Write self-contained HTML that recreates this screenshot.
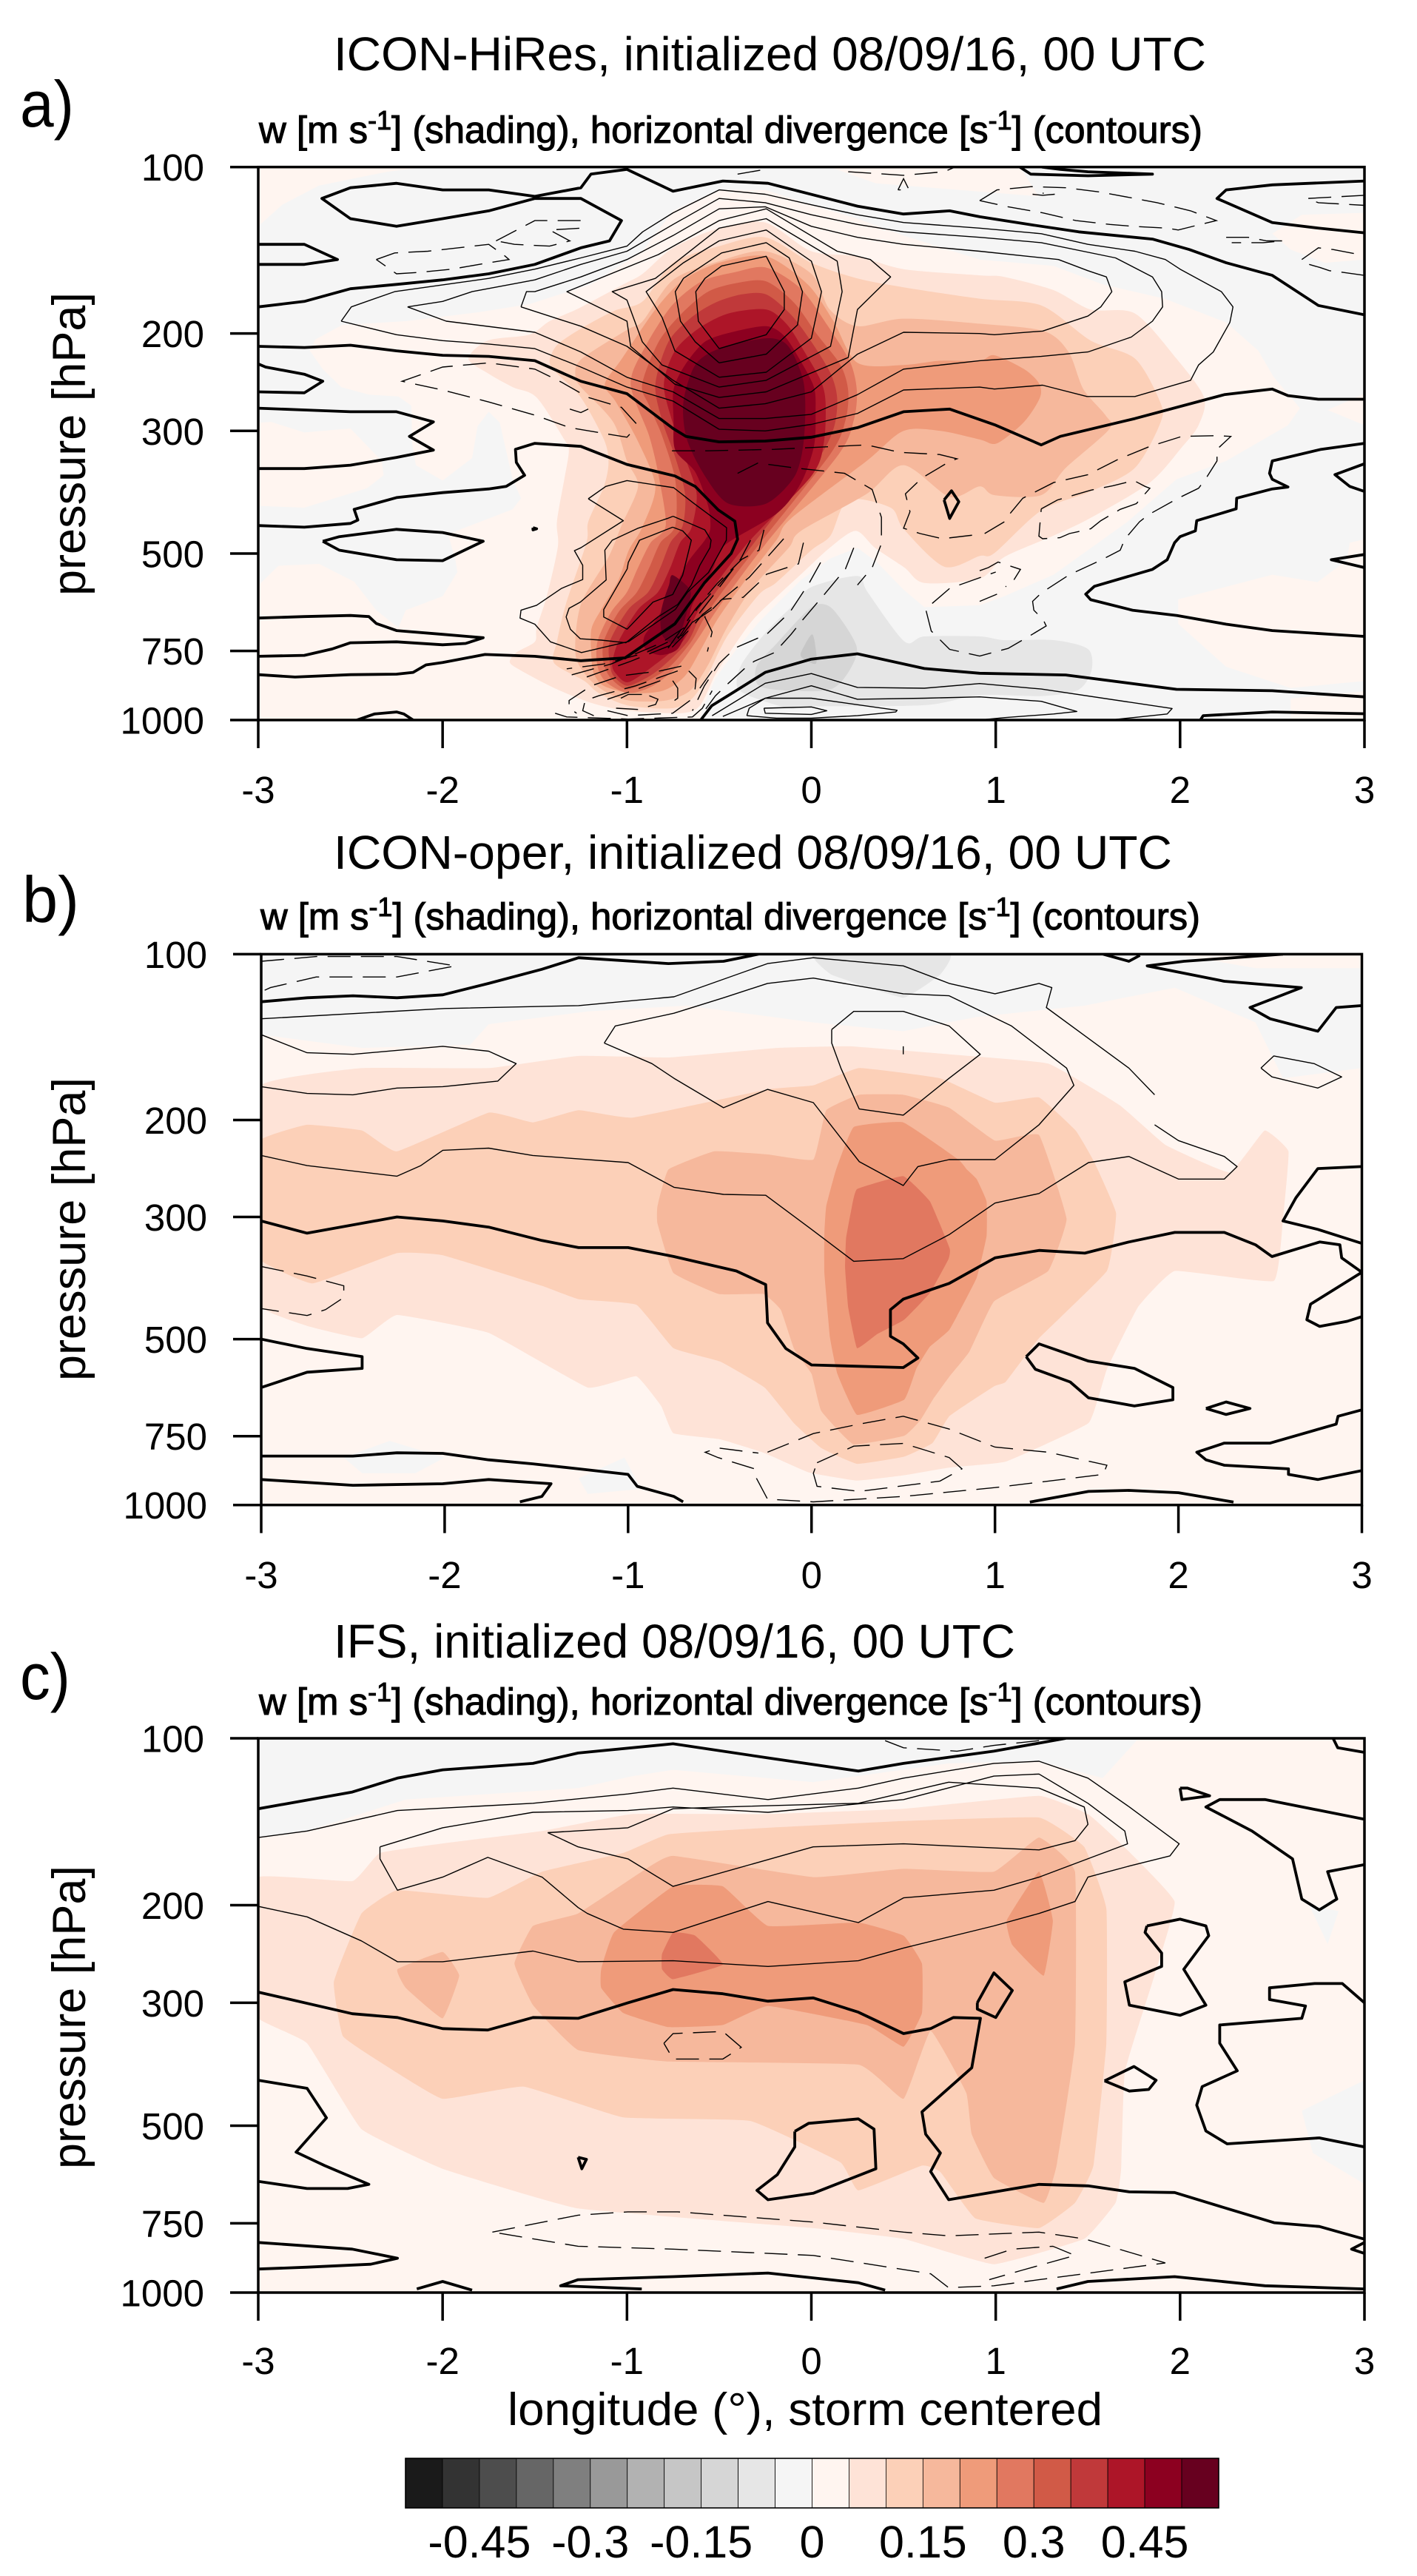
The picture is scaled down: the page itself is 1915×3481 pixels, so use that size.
<!DOCTYPE html>
<html lang="en">
<head>
<meta charset="utf-8">
<title>Vertical velocity and divergence cross-sections</title>
<style>
html,body{margin:0;padding:0;background:#fff}
svg{display:block}
text{font-family:"Liberation Sans",sans-serif;fill:#000}
</style>
</head>
<body>
<svg id="fig" xmlns="http://www.w3.org/2000/svg" width="1915" height="3481" viewBox="0 0 1915 3481">
<rect x="0" y="0" width="1915" height="3481" fill="#fff"/>

<text x="27" y="171" font-size="88" textLength="73" lengthAdjust="spacingAndGlyphs">a)</text>
<text x="451" y="95" font-size="64" textLength="1179" lengthAdjust="spacingAndGlyphs">ICON-HiRes, initialized 08/09/16, 00 UTC</text>
<text x="350" y="193" font-size="51" stroke="#000" stroke-width="1.1" textLength="1275" lengthAdjust="spacingAndGlyphs">w [m s<tspan font-size="36" dy="-18">-1</tspan><tspan dy="18">] (shading), horizontal divergence [s</tspan><tspan font-size="36" dy="-18">-1</tspan><tspan dy="18">] (contours)</tspan></text>
<text transform="translate(115,805) rotate(-90)" font-size="63" textLength="410" lengthAdjust="spacingAndGlyphs">pressure [hPa]</text>

<text x="30" y="1246" font-size="88" textLength="77" lengthAdjust="spacingAndGlyphs">b)</text>
<text x="451" y="1174" font-size="64" textLength="1133" lengthAdjust="spacingAndGlyphs">ICON-oper, initialized 08/09/16, 00 UTC</text>
<text x="352" y="1256" font-size="51" stroke="#000" stroke-width="1.1" textLength="1270" lengthAdjust="spacingAndGlyphs">w [m s<tspan font-size="36" dy="-18">-1</tspan><tspan dy="18">] (shading), horizontal divergence [s</tspan><tspan font-size="36" dy="-18">-1</tspan><tspan dy="18">] (contours)</tspan></text>
<text transform="translate(115,1866) rotate(-90)" font-size="63" textLength="410" lengthAdjust="spacingAndGlyphs">pressure [hPa]</text>

<text x="27" y="2296" font-size="88" textLength="68" lengthAdjust="spacingAndGlyphs">c)</text>
<text x="451" y="2240" font-size="64" textLength="921" lengthAdjust="spacingAndGlyphs">IFS, initialized 08/09/16, 00 UTC</text>
<text x="350" y="2317" font-size="51" stroke="#000" stroke-width="1.1" textLength="1275" lengthAdjust="spacingAndGlyphs">w [m s<tspan font-size="36" dy="-18">-1</tspan><tspan dy="18">] (shading), horizontal divergence [s</tspan><tspan font-size="36" dy="-18">-1</tspan><tspan dy="18">] (contours)</tspan></text>
<text transform="translate(115,2931) rotate(-90)" font-size="63" textLength="410" lengthAdjust="spacingAndGlyphs">pressure [hPa]</text>
<text x="686" y="3277" font-size="62" textLength="804" lengthAdjust="spacingAndGlyphs">longitude (°), storm centered</text>
</svg>

<script>
/* ---------- shared axes / legend values ---------- */
const lonTicks=[-3,-2,-1,0,1,2,3];
const pressureTicks=[100,200,300,500,750,1000];
const colorbarLevels=[-0.55,-0.5,-0.45,-0.4,-0.35,-0.3,-0.25,-0.2,-0.15,-0.1,-0.05,0,0.05,0.1,0.15,0.2,0.25,0.3,0.35,0.4,0.45,0.5];
const colorbarLabels=[-0.45,-0.3,-0.15,0,0.15,0.3,0.45];
const palette=["#1a1a1a","#333333","#4d4d4d","#666666","#7f7f7f","#999999","#b2b2b2","#c6c6c6","#d6d6d6","#e6e6e6","#f5f5f5","#fff5f0","#fee3d7","#fcd0b8","#f6b89c","#ef9b7a","#e17860","#d15a47","#c0393a","#ad1528","#8c0020","#67001f"];
const fullPlot=[[-3,100],[3,100],[3,1000],[-3,1000]];

/* ---------- panel a: w shading, polygons as [lon, hPa] ---------- */
const aGrey=[[-3,128],[-2.87,117],[-2.67,108],[-2.3,102],[-2.1,100],[3,100],[3,1000],[-.605,1000],[-.59,950],[-.52,841],[-.4,740],[-.284,665],[-.19,618],[-.056,558],[.104,510],[.25,488],[.357,519],[.5,581],[.613,625],[.913,620],[1.047,597],[1.314,546],[1.715,438],[1.98,367],[2.25,340],[2.585,293],[2.65,273],[2.505,239],[2.425,215],[2.25,191],[1.916,173],[1.58,163],[1.314,151],[.913,147],[.5,133],[.25,124],[0,117],[-.25,110],[-.5,110],[-.75,120],[-.915,142],[-1.195,163],[-1.53,177],[-1.8,183],[-2.2,190],[-2.545,193],[-2.69,205],[-2.72,215],[-2.65,232],[-2.55,250],[-2.4,258],[-2.24,260],[-2.17,270],[-2.165,316],[-2.145,346],[-2,369],[-1.84,336],[-1.81,294],[-1.75,277],[-1.69,290],[-1.62,367],[-1.575,397],[-1.62,416],[-1.97,461],[-1.93,515],[-1.92,540],[-2,597],[-2.2,633],[-2.24,681],[-2.36,633],[-2.48,562],[-2.67,522],[-2.89,526],[-3,571],[-3,410],[-2.75,413],[-2.41,381],[-2.32,361],[-2.33,340],[-2.5,297],[-2.75,302],[-2.93,289],[-3,290]];
const aPinkUpperRight=[[2.5,132],[2.66,122],[3,121],[3,147],[2.785,149],[2.6,141]];
const aPinkWedge=[[2.8,275],[3,257],[3,293]];
const aPinkLowerRight=[[1.99,605],[2.5,546],[2.745,563],[2.905,514],[2.92,478],[3,471],[3,850],[2.6,875],[2.25,801],[1.99,670]];
const aPinkBottomRight=[[2.6,914],[3,887],[3,1000],[2.6,1000]];
const aPinkTop=[[.1,100],[.35,107],[.8,110],[1.234,113],[1.13,100]];
const aMinus10=[[0,575],[.25,549],[.305,587],[.505,721],[.613,706],[.913,706],[1.047,717],[1.314,717],[1.5,744],[1.52,813],[1.448,882],[1.247,905],[.913,902],[.613,940],[0,945],[-.123,952],[-.337,904],[-.404,867],[-.377,791],[-.243,692],[-.11,625]];
const aMinus15=[[.03,618],[.118,631],[.245,735],[.205,815],[.105,880],[-.11,885],[-.284,867],[-.297,799],[-.19,728],[-.056,651]];
const aMinus20=[[.003,700],[.024,745],[.024,791],[-.043,775],[-.056,755]];
const aW05=[[-1.86,222],[-1.755,206],[-1.53,201],[-1.42,190],[-1.26,180],[-1.02,163],[-.915,156],[-.75,140],[-.5,129],[-.25,126],[0,142],[.25,145],[.5,153],[.913,157],[1.047,158],[1.314,167],[1.515,181],[1.755,184],[1.98,222],[2.13,261],[2.1,293],[2.01,321],[1.836,372],[1.515,431],[1.314,464],[1.047,507],[.913,555],[.613,565],[.505,530],[.345,488],[.24,455],[.1,488],[-.056,545],[-.19,599],[-.324,663],[-.457,767],[-.524,832],[-.605,942],[-.71,972],[-.99,962],[-1.19,932],[-1.395,875],[-1.58,812],[-1.636,786],[-1.6,755],[-1.5,722],[-1.49,681],[-1.435,597],[-1.375,486],[-1.38,438],[-1.34,367],[-1.315,326],[-1.34,311],[-1.49,261],[-1.62,250],[-1.755,236]];
const aW10=[[-1.42,225],[-1.38,210],[-1.25,196],[-1.07,182],[-.915,175],[-.75,149],[-.5,139],[-.25,134],[0,149],[.25,159],[.5,165],[.913,173],[1.247,178],[1.515,206],[1.755,222],[1.89,265],[1.895,289],[1.755,350],[1.515,386],[1.247,418],[.993,499],[.913,505],[.72,528],[.5,451],[.43,413],[.2,400],[.104,464],[0,493],[-.19,564],[-.284,593],[-.457,706],[-.564,832],[-.645,913],[-.752,952],[-.99,942],[-1.153,894],[-1.233,849],[-1.395,789],[-1.38,722],[-1.33,615],[-1.22,478],[-1.21,438],[-1.125,378],[-1.1,342],[-1.125,311],[-1.25,261],[-1.38,236]];
const aW15=[[-1.28,239],[-1.25,223],[-1,197],[-.915,190],[-.75,160],[-.5,148],[-.25,142],[0,156],[.1,181],[.25,194],[.5,188],[.913,192],[1.26,198],[1.395,216],[1.475,252],[1.595,281],[1.615,298],[1.38,350],[1.247,392],[.993,392],[.913,378],[.75,395],[.5,346],[.3,390],[-.056,455],[-.123,488],[-.324,579],[-.457,680],[-.564,799],[-.658,885],[-.79,922],[-.99,922],[-1.126,885],[-1.22,832],[-1.28,757],[-1.25,618],[-1.1,507],[-1.03,445],[-.94,378],[-1,340],[-1.075,289],[-1.25,250]];
const aW20=[[-1.12,247],[-1.027,222],[-.846,181],[-.694,160],[-.5,149],[-.245,145],[-.02,163],[.12,190],[.25,226],[.5,228],[.7,224],[.913,224],[.993,219],[1.154,232],[1.234,246],[1.24,261],[1.154,289],[1.007,316],[.913,311],[.7,300],[.5,300],[.3,340],[-.11,432],[-.19,473],[-.377,570],[-.51,658],[-.59,736],[-.685,832],[-.805,885],[-.98,894],[-1.126,867],[-1.18,824],[-1.193,767],[-1.193,685],[-1.14,631],[-1.046,558],[-.99,493],[-.92,450],[-.846,379],[-.937,315],[-1.06,266]];
const aW25=[[-.98,247],[-.9,211],[-.756,178],[-.595,161],[-.416,155],[-.245,152],[-.057,166],[.086,193],[.21,225],[.247,254],[.23,287],[.15,330],[-.243,478],[-.444,587],[-.538,651],[-.625,721],[-.725,799],[-.859,867],[-.993,894],[-1.113,854],[-1.16,799],[-1.16,721],[-1.086,638],[-1,587],[-.94,530],[-.872,478],[-.79,445],[-.828,362],[-.88,306]];
const aW30=[[-.918,247],[-.828,207],[-.703,184],[-.56,168],[-.4,162],[-.245,161],[-.093,176],[.032,201],[.158,228],[.2,254],[.185,287],[.104,330],[-.277,478],[-.484,587],[-.578,651],[-.651,721],[-.765,799],[-.885,849],[-1,880],[-1.086,841],[-1.126,791],[-1.126,721],[-1.046,638],[-.946,587],[-.879,530],[-.819,478],[-.738,445],[-.738,368],[-.81,306],[-.88,270]];
const aW35=[[-.846,247],[-.775,207],[-.65,187],[-.523,176],[-.38,170],[-.245,170],[-.11,185],[0,207],[.104,236],[.14,262],[.122,296],[.03,340],[-.31,478],[-.518,587],[-.605,651],[-.67,721],[-.805,799],[-.9,841],[-1,867],[-1.073,832],[-1.093,791],[-1.093,721],[-.993,631],[-.885,587],[-.819,530],[-.765,478],[-.698,445],[-.685,390],[-.738,335],[-.81,287]];
const aW40=[[-.8,247],[-.74,215],[-.613,196],[-.45,184],[-.245,181],[-.13,193],[-.04,215],[.05,243],[.077,266],[.068,315],[0,362],[-.344,478],[-.55,587],[-.631,651],[-.698,721],[-.859,799],[-.993,854],[-1.06,824],[-1.08,791],[-1.046,721],[-.94,631],[-.832,587],[-.765,530],[-.712,478],[-.651,450],[-.622,390],[-.685,335],[-.756,287]];
const aW45=[[-.747,287],[-.747,252],[-.685,228],[-.577,207],[-.434,199],[-.245,194],[-.147,202],[-.066,222],[.014,250],[.023,278],[.014,320],[-.057,373],[-.183,422],[-.47,483],[-.538,536],[-.645,618],[-.67,678],[-.725,744],[-.819,763],[-.9,744],[-.906,706],[-.832,651],[-.752,587],[-.671,519],[-.578,473],[-.548,450],[-.56,410],[-.63,356],[-.738,325]];
const aW50Upper=[[-.245,204],[-.125,211],[-.04,247],[-.04,310],[-.09,362],[-.245,406],[-.45,406],[-.577,362],[-.676,310],[-.694,266],[-.63,228],[-.5,213]];
const aW50Lower=[[-.752,547],[-.658,581],[-.665,618],[-.698,678],[-.738,727],[-.805,706],[-.819,651],[-.799,605],[-.772,570]];

/* ---------- panel a: divergence contours ---------- */
const aZeroContours=[
[[-3,179],[-2.75,175],[-2.5,166],[-2.25,163],[-2,160],[-1.75,156],[-1.5,150],[-1.25,140],[-1.095,136],[-1.03,125],[-1.25,114],[-1.5,114],[-1.75,120],[-2,124],[-2.25,128],[-2.5,124],[-2.655,114],[-2.5,109],[-2.25,107],[-2,110],[-1.75,110],[-1.5,113],[-1.25,109],[-1.195,103],[-1,101],[-.75,110.6],[-.48,106],[-.235,107],[.25,117.7],[.5,121.6],[.75,120],[.913,123],[1.18,127],[1.45,131],[1.85,135],[2.05,141],[2.25,149],[2.5,157],[2.75,178],[3,185]],
[[1.13,100],[1.19,103],[1.5,103.7],[1.85,103],[1.5,102],[1.35,101],[1.25,100]],
[[3,106],[2.5,107.7],[2.25,110],[2.2,114],[2.5,126],[2.75,129],[3,131.5]],
[[-3,138],[-2.75,138],[-2.57,147],[-2.75,150],[-3,150]],
[[-3,227],[-2.96,230],[-2.75,237],[-2.65,244],[-2.75,256],[-3,255]],
[[-3,211],[-2.75,212],[-2.5,210],[-2.25,215],[-2,219],[-1.75,220],[-1.5,224],[-1.25,244],[-1,257],[-.75,297],[-.68,307],[-.5,314],[-.25,313],[0,308],[.25,296],[.5,277],[.75,274],[1,293],[1.247,318],[1.35,307],[1.755,285],[2.24,258],[2.5,252],[2.585,259],[2.75,263],[3,263]],
[[-3,273],[-2.75,275],[-2.5,277],[-2.25,277],[-2.05,289],[-2.18,307],[-2.05,325],[-2.25,335],[-2.5,346],[-2.75,351],[-3,351]],
[[-3,445],[-2.75,448],[-2.5,441],[-2.46,435],[-2.48,416],[-2.25,396],[-2,388],[-1.75,382],[-1.655,378],[-1.555,361],[-1.6,342],[-1.605,324],[-1.5,316],[-1.25,320],[-1,345],[-.74,362],[-.63,378],[-.505,417],[-.415,437],[-.4,471],[-.435,500],[-.58,565],[-.74,670],[-1.01,772],[-1.25,781],[-1.5,767],[-1.77,761],[-2,787],[-2.09,795],[-2.16,820],[-2.25,826],[-2.5,828],[-2.8,836],[-3,828]],
[[-3,654],[-2.75,650],[-2.5,647],[-2.4,650],[-2.36,669],[-2.25,689],[-2,700],[-1.78,710],[-1.875,727],[-2,731],[-2.25,722],[-2.5,725],[-2.6,744],[-2.75,764],[-3,767]],
[[-2.65,475],[-2.56,493],[-2.25,513],[-2,515],[-1.78,475],[-2,458],[-2.25,452],[-2.56,466],[-2.65,475]],
[[-2.465,1000],[-2.37,975],[-2.25,967],[-2.21,975],[-2.16,1000]],
[[-1.51,449],[-1.49,451],[-1.51,453],[-1.51,449]],
[[3,316],[2.765,324],[2.5,340],[2.485,358],[2.5,367],[2.585,379],[2.5,382],[2.307,397],[2.304,415],[2.09,436],[2.083,455],[2,466],[1.97,478],[1.93,513],[1.85,534],[1.535,573],[1.488,592],[1.515,606],[1.742,633],[1.983,647],[2.25,671],[2.5,689],[3,706]],
[[3,344],[2.84,360],[2.92,378],[3,386]],
[[3,502],[2.82,513],[3,530]],
[[-.6,1000],[-.54,942],[-.43,894],[-.25,820],[0,776],[.25,759],[.613,807],[.913,823],[1.38,829],[1.98,880],[2.5,885],[3,908]],
[[2.11,1000],[2.125,982],[2.5,967],[3,974]],
[[.72,400],[.76,385],[.8,403],[.75,432],[.72,400]]
];
const aPositiveContours=[
[[-.5,213],[-.245,201],[-.147,181],[-.147,168],[-.245,145],[-.487,151],[-.577,159],[-.627,168],[-.613,190],[-.5,213]],
[[-.5,226],[-.245,218],[-.075,193],[-.048,168],[-.12,146],[-.245,137],[-.487,143],[-.694,159],[-.738,168],[-.71,190],[-.63,207],[-.5,226]],
[[-.5,240],[-.245,235],[0,204],[.055,168],[0,148],[-.245,130],[-.5,136],[-.694,149],[-.896,168],[-.81,187],[-.74,215],[-.5,240]],
[[-.5,250],[-.245,243],[.104,211],[.167,168],[.14,148],[-.245,124],[-.5,129],[-.846,159],[-1.08,168],[-1,174],[-.917,207],[-.81,228],[-.5,250]],
[[-.5,261],[-.245,255],[.2,221],[.25,181],[.43,158],[.32,147],[.14,142],[-.245,119],[-.5,125],[-.83,144],[-1.326,168],[-1,190],[-.98,211],[-.74,247],[-.5,261]],
[[-1.575,179],[-1.545,168],[-1.5,168],[-1.25,158],[-1,147],[-.75,133],[-.5,119],[-.25,118],[0,128],[.25,134],[.5,138],[.913,142],[1.34,147],[1.5,154],[1.6,158],[1.63,168],[1.57,179],[1.5,186],[1.254,198],[.993,201],[.913,200],[.5,199],[.25,218],[0,255],[-.25,268],[-.5,273],[-.75,243],[-1,211],[-1.25,194],[-1.575,179]],
[[-2.19,179],[-2,175],[-1.84,168],[-1.5,160],[-1.25,150],[-1,142],[-.92,137],[-.75,127],[-.5,114],[-.25,116],[0,122],[.25,127],[.5,131],[.913,134],[1.247,137],[1.65,146],[1.85,158],[1.9,168],[1.905,179],[1.85,190],[1.735,203],[1.5,216],[1.247,220],[.913,224],[.5,232],[.25,258],[0,280],[-.25,285],[-.5,285],[-.75,255],[-1,240],[-1.25,216],[-1.5,199],[-1.98,190],[-2.19,179]],
[[-2.55,190],[-2.495,179],[-2.26,168],[-1.75,159],[-1.5,153],[-1.25,146],[-1,139],[-.915,131],[-.75,121],[-.5,110],[-.25,112],[0,117],[.25,122],[.5,126],[.913,129],[1.247,132],[1.5,138],[1.755,142],[1.92,147],[2,153],[2.224,168],[2.287,179],[2.27,191],[2.18,216],[2.1,228],[2.057,243],[1.755,260],[1.495,260],[1.254,248],[.993,252],[.913,250],[.5,253],[.25,279],[0,292],[-.25,300],[-.5,298],[-.75,265],[-1,250],[-1.25,230],[-1.5,213],[-1.75,209],[-2,206],[-2.25,201],[-2.55,190]],
[[-.752,448],[-.932,473],[-.993,519],[-.999,533],[-1.126,631],[-1.126,651],[-.999,685],[-.859,612],[-.752,593],[-.698,547],[-.651,473],[-.698,455],[-.752,448]],
[[-.75,428],[-.578,453],[-.544,473],[-.55,488],[-.605,525],[-.651,570],[-.725,618],[-.832,651],[-1.006,725],[-1.14,717],[-1.253,713],[-1.307,685],[-1.33,651],[-1.314,628],[-1.253,612],[-1.113,558],[-1.12,493],[-1.08,473],[-.94,450],[-.78,432],[-.75,428]],
[[-1.21,398],[-1.115,378],[-1,369],[-.747,380],[-.64,405],[-.46,449],[-.461,473],[-.558,541],[-.671,587],[-.738,631],[-.99,721],[-1.247,755],[-1.415,722],[-1.5,671],[-1.58,654],[-1.575,633],[-1.49,620],[-1.355,578],[-1.24,557],[-1.24,525],[-1.285,494],[-1.25,488],[-1.02,436],[-1.21,398]],
[[-.538,982],[-.25,858],[0,824],[.25,873],[.613,876],[.913,859],[1.247,879],[1.957,953],[1.93,975],[1.78,987],[1.62,1000]],
[[-.48,985],[-.25,913],[0,867],[.25,917],[.613,913],[.913,908],[1.247,925],[1.44,965],[1.314,975],[1.05,990],[.913,1000]],
[[-.35,982],[-.337,952],[-.25,913],[0,913],[.465,960],[.458,967],[.25,982],[0,992],[-.19,992],[-.35,982]],
[[-.257,952],[0,947],[.084,962],[0,977],[-.25,972],[-.257,952]]
];
const aNegativeContours=[
[[-2.36,147],[-2.26,143],[-2.08,142],[-1.75,138],[-1.66,145],[-1.64,147],[-1.75,149],[-1.95,153],[-2.12,155],[-2.25,156],[-2.36,147]],
[[-1.71,136],[-1.5,125],[-1.25,125],[-1.24,126],[-1.25,129],[-1.42,130],[-1.31,136],[-1.42,139],[-1.61,138],[-1.71,136]],
[[-.95,291],[-1.03,272],[-1.21,261],[-1.355,245],[-1.5,232],[-1.75,226],[-2,230],[-2.22,244],[-2,253],[-1.75,266],[-1.5,281],[-1.31,296],[-1.13,303],[-1,308],[-.96,298]],
[[-1.31,274],[-1.25,278],[-1.21,274]],
[[.94,460],[1.047,438],[1.073,425],[1.147,397],[1.314,372],[1.5,360],[1.662,338],[1.836,320],[2.01,307],[2.2,306],[2.275,307],[2.2,324],[2.2,340],[2.137,367],[2.1,381],[1.99,397],[1.83,425],[1.78,438],[1.7,471],[1.675,493],[1.57,514],[1.4,546],[1.25,588],[1.2,610],[1.207,633],[1.257,658],[1.274,676],[1.167,710],[1.067,742],[.913,766],[.75,745],[.65,690],[.62,630],[.75,578],[1,540]],
[[1.247,415],[1.335,400],[1.515,384],[1.635,377],[1.75,369],[1.81,378],[1.836,381],[1.763,406],[1.675,416],[1.57,436],[1.515,451],[1.4,460],[1.348,468],[1.254,470],[1.234,465],[1.247,415]],
[[.913,537],[.96,530],[1.013,518],[1.134,534],[1.087,566],[1.053,574]],
[[.913,610],[1.007,592]],
[[-.756,326],[-.56,326],[-.2,324],[.3,318],[.48,328],[.695,331],[.79,337],[.755,340],[.6,365],[.51,390],[.535,420],[.5,450],[.59,460],[.71,470],[.9,462]],
[[-.4,358],[-.29,343],[-.09,350],[.18,358],[.33,383],[.38,430],[.38,480],[.33,530],[.25,570]],
[[.23,488],[.185,533],[.07,593],[-.05,661],[-.11,700],[-.2,755],[-.31,783],[-.364,808],[-.45,858],[-.52,904],[-.59,972]],
[[.05,519],[-.01,564],[-.116,638],[-.243,700],[-.41,740],[-.5,790],[-.58,867],[-.645,962]],
[[-.043,478],[-.07,522],[-.243,545],[-.284,564],[-.37,600],[-.484,605],[-.578,651],[-.538,693],[-.564,752]],
[[-.15,470],[-.21,495],[-.337,552],[-.484,605],[-.59,644],[-.645,678],[-.765,744]],
[[-.257,453],[-.284,493],[-.377,512],[-.51,566],[-.63,631],[-.78,744]],
[[-.33,473],[-.384,512],[-.538,599],[-.7,702],[-.9,756],[-1.126,792],[-1.327,808]],
[[-.424,533],[-.618,628],[-.738,727],[-.98,783],[-1.24,841]],
[[-.538,631],[-.82,727],[-1.086,792],[-1.32,832]],
[[-.705,799],[-.819,815],[-1.033,832],[-1.193,867],[-1.314,922],[-1.314,952],[-1.273,972]],
[[-.725,815],[-.952,867],[-1.153,904],[-1.227,922],[-1.24,962],[-1.18,982]],
[[-.819,849],[-1.006,894],[-1.106,917]],
[[-.665,815],[-.625,841],[-.631,880]],
[[-.752,849],[-.725,876],[-.725,913],[-.752,927]],
[[-.879,904],[-.832,917],[-.845,937],[-.939,957],[-1.059,952]],
[[-1.033,913],[-.993,899],[-.919,899]],
[[-.658,922],[-.752,972],[-.993,982],[-1.106,962]],
[[-1.39,972],[-1.327,987],[-.993,996],[-.645,987],[-.591,952],[-.538,885]],
[[-.605,876],[-.538,815]],
[[.913,115],[1.007,110],[1.194,108.5],[1.38,109],[1.568,111],[1.876,116],[2.057,120],[2.197,125],[2.11,127],[1.99,130],[1.93,129],[1.742,128],[1.62,127],[1.435,125],[1.254,121],[1.067,118],[.913,115]],
[[1.2,112],[1.254,112.5],[1.32,112],[1.254,111.5]],
[[-.4,103],[-.25,101]],
[[.2,102],[.5,103.5],[.72,102],[.78,100]],
[[.47,110],[.5,105],[.53,110],[.47,110]],
[[2.25,134],[2.37,134],[2.47,136],[2.56,136],[2.45,137],[2.4,137],[2.28,137]],
[[2.66,147],[2.75,140],[2.83,141],[2.95,143.5],[3,144]],
[[2.7,150],[2.76,152],[2.81,154],[2.88,155],[3,157]],
[[3,112.5],[2.69,114],[2.75,116],[3,117.3]]
];

/* ---------- panel b ---------- */
const bGrey=[[3,161],[2.57,168],[2.42,133],[1.98,115],[1.49,124],[.9,130],[.5,138],[.01,133],[-.68,124],[-1.22,127],[-1.76,134],[-1.86,146],[-2.45,148],[-3,140],[-3,100],[3,100]];
const bGreyPatchLeft=[[-2.55,820],[-2.3,765],[-2,820],[-2.16,876],[-2.45,876]];
const bGreyPatchMid=[[-1.27,895],[-1.02,820],[-.93,935],[-1.22,955]];
const bPinkTopRight=[[1.98,100],[3,100],[3,106],[2.42,106]];
const bMinus10=[[.01,100],[.75,100],[.7,109],[.5,120],[.11,109]];
const bW05=[[-3,173],[-2.45,161],[-1.76,161],[-1.27,153],[-.78,154],[-.19,148],[.21,147],[.75,152],[1.29,158],[1.68,188],[1.93,222],[2.28,249],[2.47,209],[2.6,228],[2.57,302],[2.52,392],[1.98,376],[1.78,437],[1.61,567],[1.51,710],[1.06,834],[.753,855],[.505,883],[.248,903],[-.014,873],[-.256,805],[-.498,760],[-.753,741],[-.82,661],[-.955,584],[-1.22,612],[-1.76,487],[-2.26,452],[-2.45,498],[-2.75,473],[-3,437],[-3.2,300]];
const bW10=[[-3,217],[-2.75,204],[-2.45,209],[-2.26,228],[-1.76,194],[-1.52,202],[-1.27,192],[-.975,198],[-.24,176],[.01,173],[.26,161],[.7,168],[1,186],[1.24,182],[1.44,209],[1.54,238],[1.66,295],[1.61,376],[1.24,498],[1.06,597],[.995,609],[.753,689],[.659,772],[.505,817],[.248,842],[.053,788],[-.095,711],[-.256,612],[-.498,549],[-.753,519],[-.955,433],[-1.27,423],[-1.47,400],[-2.01,352],[-2.26,349],[-2.72,396],[-3,360],[-3.2,280]];
const bW15=[[-.78,246],[-.53,228],[-.24,231],[.01,236],[.08,192],[.26,180],[.5,180],[.75,190],[1,218],[1.24,213],[1.39,302],[1.29,376],[.995,427],[.86,527],[.753,584],[.665,641],[.591,703],[.505,749],[.228,776],[.053,675],[0,578],[-.095,521],[-.168,442],[-.262,414],[-.505,414],[-.753,379],[-.84,308],[-.84,287]];
const bW20=[[.23,206],[.5,202],[.8,236],[.847,246],[.9,256],[.954,281],[.954,325],[.9,387],[.753,480],[.645,516],[.571,566],[.505,644],[.248,686],[.141,578],[.1,495],[.07,379],[.07,321],[.08,287],[.134,246]];
const bW25=[[.248,267],[.5,253],[.645,281],[.753,342],[.746,358],[.645,412],[.505,461],[.356,490],[.248,519],[.2,438],[.183,371],[.188,328],[.215,293]];
const bZeroContours=[
[[-3,305],[-2.75,321],[-2.26,300],[-2.01,305],[-1.76,313],[-1.47,331],[-1.27,341],[-1,341],[-.75,354],[-.41,376],[-.25,398],[-.24,467],[-.14,520],[0,557],[.5,563],[.58,541],[.5,510],[.43,494],[.43,442],[.5,423],[.75,396],[1,356],[1.24,345],[1.49,349],[1.73,333],[1.98,320],[2.25,320],[2.42,337],[2.51,354],[2.77,333],[2.88,337],[2.89,356],[3,378],[2.72,432],[2.7,461],[2.77,474],[2.92,464],[3,455]],
[[-3,122],[-2.75,120],[-2.5,119],[-2.26,120],[-2.01,118.5],[-1.76,113],[-1.47,106.5],[-1.27,101.5],[-.78,104],[-.48,103],[-.29,100]],
[[1.59,100],[1.73,103],[1.79,100.5]],
[[2.57,100],[2.03,103],[1.83,105],[2.25,112],[2.67,115],[2.39,125],[2.5,131],[2.76,138],[2.86,125],[3,124]],
[[3,243],[2.76,245],[2.64,277],[2.57,305],[2.76,316],[3,335]],
[[-3,500],[-2.75,520],[-2.45,538],[-2.45,565],[-2.75,574],[-3,612]],
[[1.17,538],[1.24,510],[1.51,548],[1.76,565],[1.97,612],[1.97,644],[1.76,661],[1.51,639],[1.41,598],[1.22,567],[1.17,538]],
[[2.15,668],[2.26,650],[2.39,668],[2.26,685],[2.15,668]],
[[3,672],[2.87,690],[2.86,713],[2.5,772],[2.25,772],[2.1,802],[2.15,828],[2.25,847],[2.6,860],[2.6,880],[2.76,899],[3,866]],
[[-3,815],[-2.5,815],[-2.26,804],[-2.01,806],[-1.76,828],[-1.52,842],[-1.27,860],[-1,880],[-.95,925],[-.75,965],[-.7,987]],
[[-3,899],[-2.5,921],[-2.01,915],[-1.76,899],[-1.42,915],[-1.47,965],[-1.59,987]],
[[1.19,988],[1.51,945],[1.73,941],[2,950],[2.3,988]]
];
const bPositiveContours=[
[[-3,140],[-2.75,151],[-2.5,152],[-2.01,147],[-1.76,150],[-1.61,158],[-1.71,170],[-2.01,174],[-2.26,175],[-2.5,180],[-2.75,179],[-3,174]],
[[-3,232],[-2.75,242],[-2.26,253],[-2.13,242],[-2.01,227],[-1.76,225],[-1.52,232],[-1,239],[-.75,265],[-.48,273],[-.25,274],[0,316],[.23,361],[.5,357],[.75,323],[1,283],[1.24,272],[1.51,239],[1.73,233],[2,256],[2.25,256],[2.32,243],[2.25,233],[2,218],[1.87,204]],
[[1.87,180],[1.73,161],[1.28,125],[1.31,115],[1.24,113],[1,118],[.75,113],[.5,105],[.01,101.5],[-.24,104],[-.75,119.5],[-1.27,124],[-2,125.5],[-3,131]],
[[-1.13,145],[-1.07,135],[-.75,128],[-.48,120],[-.24,113],[.01,110.5],[.5,118],[.75,119],[1.09,135],[1.39,161],[1.43,173],[1.24,204],[1,236],[.75,236],[.58,243],[.5,263],[.26,238],[.01,186],[-.24,176],[-.48,190],[-.75,168],[-.87,158],[-1.13,145]],
[[.11,137],[.23,127],[.5,127],[.75,135],[.92,152],[.75,168],[.5,196],[.26,191],[.16,161],[.11,145],[.11,137]],
[[2.45,161],[2.52,153],[2.74,158],[2.89,167],[2.76,175],[2.51,167],[2.45,161]],
[[.5,147],[.5,152]]
];
const bNegativeContours=[
[[-3,103],[-2.7,101],[-2.26,101],[-1.94,105],[-2.26,110],[-2.7,110],[-2.95,115],[-3,117]],
[[-3,369],[-2.75,384],[-2.55,400],[-2.55,420],[-2.65,442],[-2.75,453],[-3,440]],
[[-.24,802],[.01,742],[.26,713],[.5,690],[.75,728],[1,785],[1.29,802],[1.61,847],[1.59,880],[1,930],[.5,965],[.01,987],[-.24,976],[-.3,895],[-.31,860],[-.51,820],[-.58,802],[-.51,788],[-.29,805]],
[[.03,838],[.23,782],[.5,773],[.75,820],[.82,860],[.7,905],[.26,945],[.03,925],[.01,876],[.03,838]]
];

/* ---------- panel c ---------- */
const cGrey=[[-3,151],[-2.735,147],[-2.2,129],[-1.265,123],[-.97,117],[-.75,114],[.01,120],[.745,111],[1.235,110],[1.58,118],[1.775,100],[-3,100]];
const cGreyRight=[[2.66,470],[3,414],[3,637],[2.72,560]];
const cGreyUpperRight=[[2.7,200],[2.86,205],[2.8,235]];
const cW05=[[-3,178],[-2.49,181],[-2.34,161],[-1.95,154],[-1.46,147],[-.97,137],[-.235,137],[.5,134],[1.235,127],[1.5,137],[1.68,155],[1.97,197],[1.85,275],[1.7,400],[1.68,600],[1.65,689],[1.48,800],[.99,889],[.5,800],[.01,765],[-1.265,705],[-2,598],[-2.44,507],[-2.735,355],[-3,320],[-3.2,240]];
const cW10=[[-2.59,275],[-2.44,207],[-2.245,188],[-1.755,194],[-1.46,174],[-1.02,161],[-.775,149],[-.235,145],[.5,141],[1.235,139],[1.48,157],[1.6,203],[1.6,355],[1.53,590],[1.43,689],[1.235,765],[.89,735],[.7,606],[.6,590],[.255,654],[.157,582],[-.333,490],[-1.02,483],[-1.56,425],[-2,447],[-2.29,393],[-2.54,345]];
const cW15=[[-1.61,255],[-1.51,218],[-1.265,207],[-.92,174],[-.75,163],[.01,178],[.5,172],[.99,174],[1.235,151],[1.43,174],[1.43,355],[1.33,590],[1.26,689],[.99,621],[.87,518],[.84,436],[.647,337],[.5,447],[.255,388],[-.775,383],[-1.265,365],[-1.51,303]];
const cW15Left=[[-2.245,261],[-2,243],[-1.91,268],[-2,320],[-2.2,282]];
const cW20=[[-1.14,261],[-1.07,224],[-.75,185],[-.48,185],[-.235,218],[.255,215],[.5,227],[.6,255],[.6,313],[.5,360],[.3,329],[-.235,304],[-.48,329],[-.775,332],[-1.02,313],[-1.14,282]];
const cW20Right=[[1.06,213],[1.235,174],[1.31,213],[1.26,268],[1.09,236]];
const cW25=[[-.81,245],[-.75,224],[-.63,227],[-.48,256],[-.75,272],[-.81,261]];
const cZeroContours=[
[[-3,287],[-2.49,314],[-2.245,319],[-2,334],[-1.755,336],[-1.51,319],[-1.265,320],[-.995,300],[-.75,284],[-.48,289],[-.235,298],[.01,294],[.255,312],[.5,341],[.647,334],[.77,319],[.917,320],[.87,393],[.6,472],[.62,518],[.7,560],[.647,605],[.745,680],[1.235,638],[1.5,642],[1.725,658],[1.97,660],[2.265,707],[2.51,748],[2.755,760],[3,801]],
[[-3,134],[-2.49,125],[-2.245,118],[-2,114],[-1.51,111],[-1.265,106.3],[-.75,102.3],[-.235,108.5],[.255,114.6],[.5,111],[.99,105.5],[1.38,100]],
[[2.83,100],[2.855,104],[3,106]],
[[2,123],[2.04,123],[2.16,127],[2.01,129],[2,123]],
[[3,140],[2.46,129],[2.215,129],[2.14,133],[2.39,147],[2.61,165],[2.66,195],[2.755,204],[2.85,195],[2.8,174],[3,169]],
[[1.82,218],[2,212],[2.14,218],[2.155,227],[2.02,261],[2.14,303],[2,316],[1.725,303],[1.7,275],[1.9,258],[1.9,244],[1.81,224],[1.82,218]],
[[3,300],[2.88,277],[2.73,277],[2.485,282],[2.485,296],[2.68,304],[2.66,320],[2.215,329],[2.215,355],[2.31,398],[2.12,425],[2.09,459],[2.14,511],[2.255,539],[2.755,526],[3,546]],
[[1.59,415],[1.75,391],[1.87,414],[1.83,430],[1.725,433],[1.59,415]],
[[-.09,512],[-.015,495],[.255,486],[.34,507],[.35,598],[.01,662],[-.235,680],[-.295,654],[-.185,613],[-.09,546],[-.09,512]],
[[.9,300],[.99,265],[1.09,285],[1,319],[.9,308],[.9,300]],
[[-3,414],[-2.735,428],[-2.63,484],[-2.795,558],[-2.64,590],[-2.4,638],[-2.515,649],[-2.735,649],[-3,630]],
[[-3,812],[-2.49,835],[-2.245,867],[-2.39,889],[-2.735,900],[-3,907]],
[[-.92,985],[-1.36,972],[-1.265,948],[-.75,936],[-.235,922],[.255,960],[.4,990]],
[[-2.14,985],[-2,955],[-1.84,990]],
[[1.33,985],[1.5,955],[1.97,936],[2.46,972],[3,985]],
[[3,812],[2.93,835],[3,850]],
[[-1.265,570],[-1.245,598],[-1.22,575],[-1.265,570]]
];
const cPositiveContours=[
[[-3,151],[-2.735,147],[-2.245,135],[-1.51,131],[-.995,126],[-.75,123],[-.235,129],[.255,123],[.5,118],[.99,111],[1.235,110],[1.5,118],[1.725,133],[1.995,155],[1.945,163],[1.725,170],[1.5,178],[1.43,197],[1.235,207],[.99,218],[.5,239],[.255,252],[-.235,258],[-.75,252],[-1.265,253],[-1.51,242],[-2,253],[-2.245,253],[-2.44,232],[-2.735,210],[-3,201]],
[[-2.34,157],[-2,145],[-1.51,136],[-.995,135],[-.75,133],[-.235,136],[.5,129],[.99,117],[1.235,116],[1.5,131],[1.7,147],[1.715,155],[1.235,178],[.99,188],[.5,194],[.255,215],[-.235,197],[-.75,224],[-1.02,221],[-1.215,207],[-1.265,202],[-1.46,178],[-1.755,164],[-2,178],[-2.245,188],[-2.34,165],[-2.34,157]],
[[-1.43,148],[-.995,145],[-.75,134],[-.48,133],[.255,131],[.745,120],[1.235,123],[1.48,133],[1.5,143],[1.43,153],[1.235,159],[.5,155],[.01,157],[-.75,185],[-.995,165],[-1.265,157],[-1.43,148]]
];
const cNegativeContours=[
[[.4,101],[.5,104],[.79,105.5],[.99,103],[1.235,101]],
[[-1.73,778],[-1.265,725],[-.995,715],[-.725,715],[.01,746],[.5,778],[.745,790],[1.235,778],[1.48,800],[1.92,884],[1.48,925],[1.235,948],[.99,972],[.745,980],[.647,925],[.01,857],[-.75,835],[-1.265,825],[-1.73,778]],
[[.94,867],[1.09,835],[1.31,825],[1.43,857],[1.14,912],[.965,948]],
[[-.8,355],[-.75,341],[-.48,338],[-.38,361],[-.48,379],[-.75,379],[-.8,355]]
];

/* ---------- layer ordering: lower class bound of each shaded band ---------- */
const aShadingLevels=[0,-.05,0,0,0,0,0,-.1,-.15,-.2,.05,.1,.15,.2,.25,.3,.35,.4,.45,.5,.5];
const aShadingPolygons=[fullPlot,aGrey,aPinkUpperRight,aPinkWedge,aPinkLowerRight,aPinkBottomRight,aPinkTop,aMinus10,aMinus15,aMinus20,aW05,aW10,aW15,aW20,aW25,aW30,aW35,aW40,aW45,aW50Upper,aW50Lower];
const bShadingLevels=[0,-.05,-.05,-.05,0,-.1,.05,.1,.15,.2,.25];
const bShadingPolygons=[fullPlot,bGrey,bGreyPatchLeft,bGreyPatchMid,bPinkTopRight,bMinus10,bW05,bW10,bW15,bW20,bW25];
const cShadingLevels=[0,-.05,-.05,-.05,.05,.1,.15,.15,.2,.2,.25];
const cShadingPolygons=[fullPlot,cGrey,cGreyRight,cGreyUpperRight,cW05,cW10,cW15,cW15Left,cW20,cW20Right,cW25];

/* ---------- drawing ---------- */
const NS="http://www.w3.org/2000/svg";
const fig=document.getElementById("fig");

function mk(tag,name,parent){
  const el=document.createElementNS(NS,tag);
  
  
  parent.appendChild(el);
  return el;
}
function colorOf(level){
  return palette[Math.round((level+0.55)/0.05)];
}
function makeXScale(box){
  return function(lon){return box.x0+(lon+3)/6*(box.x1-box.x0);};
}
function makeYScale(box){
  return function(p){return box.y0+Math.log10(p/100)*(box.y1-box.y0);};
}
function linePath(pts,x,y,close){
  let d="";
  pts.forEach(function(q,i){d+=(i?"L":"M")+x(q[0]).toFixed(1)+" "+y(q[1]).toFixed(1);});
  return d+(close?"Z":"");
}
function smoothPath(pts,x,y,k){
  const s=pts.map(function(q){return [x(q[0]),y(q[1])];});
  const n=s.length;
  let d="M"+s[0][0].toFixed(1)+" "+s[0][1].toFixed(1);
  for(let i=0;i<n;i++){
    const a=s[(i-1+n)%n],b=s[i],c=s[(i+1)%n],e=s[(i+2)%n];
    d+="C"+(b[0]+(c[0]-a[0])*k).toFixed(1)+" "+(b[1]+(c[1]-a[1])*k).toFixed(1)+" "+(c[0]-(e[0]-b[0])*k).toFixed(1)+" "+(c[1]-(e[1]-b[1])*k).toFixed(1)+" "+c[0].toFixed(1)+" "+c[1].toFixed(1);
  }
  return d+"Z";
}
function drawPanel(key,box,labelBaseline,tension,levels,polygons,zeroLines,posLines,negLines){
  const x=makeXScale(box),y=makeYScale(box);
  const g=mk("g","panel-"+key,fig);
  const defs=mk("defs","panel-"+key+"-defs",g);
  const clip=mk("clipPath","panel-"+key+"-clip",defs);
  clip.setAttribute("id","clip-"+key);
  const clipRect=mk("rect","panel-"+key+"-clip-rect",clip);
  clipRect.setAttribute("x",box.x0);
  clipRect.setAttribute("y",box.y0);
  clipRect.setAttribute("width",box.x1-box.x0);
  clipRect.setAttribute("height",box.y1-box.y0);

  const plot=mk("g","panel-"+key+"-plot-area",g);
  plot.setAttribute("clip-path","url(#clip-"+key+")");

  polygons.forEach(function(poly,i){
    const level=levels[i];
    const el=mk("path","panel-"+key+"-w-shading-band",plot);
    const smooth=level>=0.05||level<-0.05;
    el.setAttribute("d",smooth?smoothPath(poly,x,y,tension):linePath(poly,x,y,true));
    el.setAttribute("fill",colorOf(level));
  });
  posLines.forEach(function(l){
    const el=mk("path","panel-"+key+"-positive-divergence-contour",plot);
    el.setAttribute("d",linePath(l,x,y,false));
    el.setAttribute("fill","none");
    el.setAttribute("stroke","#000");
    el.setAttribute("stroke-width","1.4");
    el.setAttribute("stroke-linejoin","round");
  });
  negLines.forEach(function(l){
    const el=mk("path","panel-"+key+"-negative-divergence-contour",plot);
    el.setAttribute("d",linePath(l,x,y,false));
    el.setAttribute("fill","none");
    el.setAttribute("stroke","#000");
    el.setAttribute("stroke-width","1.4");
    el.setAttribute("stroke-dasharray","31 14");
  });
  zeroLines.forEach(function(l){
    const el=mk("path","panel-"+key+"-zero-divergence-contour",plot);
    el.setAttribute("d",linePath(l,x,y,false));
    el.setAttribute("fill","none");
    el.setAttribute("stroke","#000");
    el.setAttribute("stroke-width","3.8");
    el.setAttribute("stroke-linejoin","round");
  });

  const frame=mk("rect","panel-"+key+"-plot-frame",g);
  frame.setAttribute("x",box.x0);
  frame.setAttribute("y",box.y0);
  frame.setAttribute("width",box.x1-box.x0);
  frame.setAttribute("height",box.y1-box.y0);
  frame.setAttribute("fill","none");
  frame.setAttribute("stroke","#000");
  frame.setAttribute("stroke-width","3.5");

  lonTicks.forEach(function(t){
    const tick=mk("line","panel-"+key+"-x-tick",g);
    tick.setAttribute("x1",x(t));
    tick.setAttribute("x2",x(t));
    tick.setAttribute("y1",box.y1);
    tick.setAttribute("y2",box.y1+38);
    tick.setAttribute("stroke","#000");
    tick.setAttribute("stroke-width","3.5");
    const lab=mk("text","panel-"+key+"-x-tick-label",g);
    lab.setAttribute("x",x(t));
    lab.setAttribute("y",labelBaseline);
    lab.setAttribute("font-size","51");
    lab.setAttribute("text-anchor","middle");
    lab.textContent=String(t);
  });
  pressureTicks.forEach(function(p){
    const tick=mk("line","panel-"+key+"-y-tick",g);
    tick.setAttribute("x1",box.x0-38);
    tick.setAttribute("x2",box.x0);
    tick.setAttribute("y1",y(p));
    tick.setAttribute("y2",y(p));
    tick.setAttribute("stroke","#000");
    tick.setAttribute("stroke-width","3.5");
    const lab=mk("text","panel-"+key+"-y-tick-label",g);
    lab.setAttribute("x",box.x0-73);
    lab.setAttribute("y",y(p)+18.5);
    lab.setAttribute("font-size","51");
    lab.setAttribute("text-anchor","end");
    lab.textContent=String(p);
  });
}

drawPanel("a",{x0:349,x1:1844,y0:225.7,y1:973},1085,0.14,aShadingLevels,aShadingPolygons,aZeroContours,aPositiveContours,aNegativeContours);
drawPanel("b",{x0:353,x1:1840.5,y0:1289.4,y1:2033.7},2146,0.05,bShadingLevels,bShadingPolygons,bZeroContours,bPositiveContours,bNegativeContours);
drawPanel("c",{x0:349,x1:1844,y0:2349,y1:3098},3208,0.05,cShadingLevels,cShadingPolygons,cZeroContours,cPositiveContours,cNegativeContours);

/* ---------- colour bar ---------- */
const cbBox={x0:548,x1:1647,y0:3322,y1:3389};
function cbX(level){
  return cbBox.x0+(level+0.55)/1.1*(cbBox.x1-cbBox.x0);
}
const cbGroup=mk("g","colorbar",fig);
colorbarLevels.forEach(function(level,i){
  const box=mk("rect","colorbar-swatch",cbGroup);
  box.setAttribute("x",cbX(level));
  box.setAttribute("y",cbBox.y0);
  box.setAttribute("width",cbX(level+0.05)-cbX(level));
  box.setAttribute("height",cbBox.y1-cbBox.y0);
  box.setAttribute("fill",palette[i]);
  box.setAttribute("stroke","#000");
  box.setAttribute("stroke-width","0.8");
});
const cbFrame=mk("rect","colorbar-frame",cbGroup);
cbFrame.setAttribute("x",cbBox.x0);
cbFrame.setAttribute("y",cbBox.y0);
cbFrame.setAttribute("width",cbBox.x1-cbBox.x0);
cbFrame.setAttribute("height",cbBox.y1-cbBox.y0);
cbFrame.setAttribute("fill","none");
cbFrame.setAttribute("stroke","#000");
cbFrame.setAttribute("stroke-width","1.6");
colorbarLabels.forEach(function(v){
  const t=mk("text","colorbar-label",cbGroup);
  t.setAttribute("x",cbX(v));
  t.setAttribute("y",3456);
  t.setAttribute("font-size","61");
  t.setAttribute("text-anchor","middle");
  t.textContent=String(v);
});
</script>
</body>
</html>
